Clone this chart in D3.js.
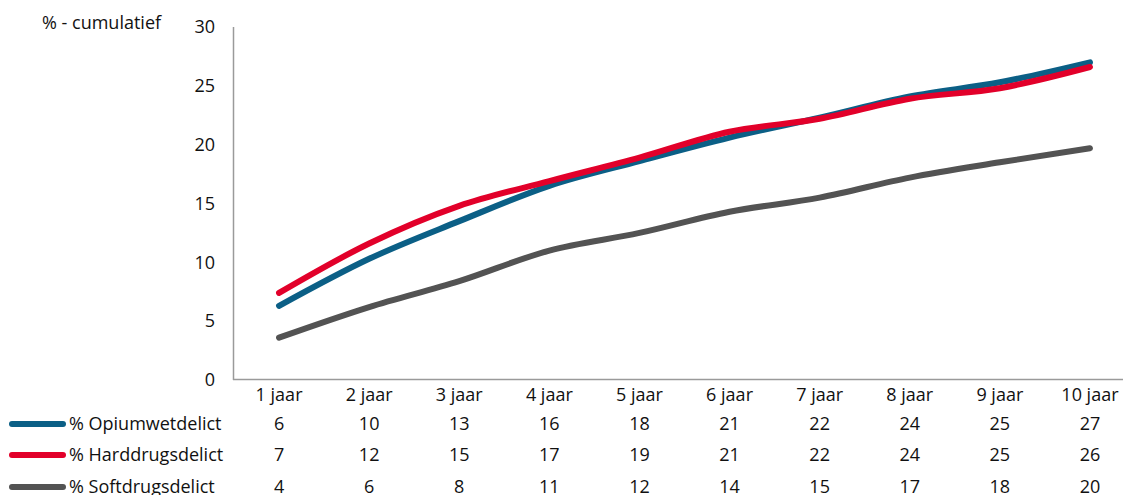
<!DOCTYPE html>
<html><head><meta charset="utf-8">
<script src="https://cdn.jsdelivr.net/npm/d3@7"></script>
<style>
body{margin:0;background:#fff;}
svg text{font-family:"Open Sans",Lato,sans-serif;fill:#111;}
</style></head>
<body>
<svg id="c" width="1123" height="495"></svg>
<script>
const categories = ["1 jaar","2 jaar","3 jaar","4 jaar","5 jaar","6 jaar","7 jaar","8 jaar","9 jaar","10 jaar"];
const seriesNames = ["% Opiumwetdelict","% Harddrugsdelict","% Softdrugsdelict"];
const opium = [6.3,10.3,13.5,16.5,18.6,20.6,22.3,24.1,25.3,27.0];
const hard  = [7.4,11.6,14.8,16.9,18.9,21.1,22.2,23.9,24.8,26.6];
const soft  = [3.6,6.2,8.4,11.0,12.5,14.3,15.5,17.2,18.5,19.7];
const tableOpium = [6,10,13,16,18,21,22,24,25,27];
const tableHard  = [7,12,15,17,19,21,22,24,25,26];
const tableSoft  = [4,6,8,11,12,14,15,17,18,20];
const yTicks = [0,5,10,15,20,25,30];
const colors = ["#0b5f86","#e2002a","#535353"];
const fs = 18;

const svg = d3.select("#c");
const x = d3.scaleBand().domain(categories).range([234,1135]);
const y = d3.scaleLinear().domain([0,30]).range([380,27]);

svg.append("line").attr("x1",233.5).attr("x2",233.5).attr("y1",27).attr("y2",380).attr("stroke","#9a9a9a").attr("stroke-width",1.5);
svg.append("line").attr("x1",233).attr("x2",1123).attr("y1",379.5).attr("y2",379.5).attr("stroke","#9a9a9a").attr("stroke-width",1.5);

svg.selectAll(".yt").data(yTicks).enter().append("text")
  .attr("x",215).attr("y",d=>y(d)).attr("dy","0.35em").attr("text-anchor","end")
  .attr("font-size",fs).text(d=>d);

svg.append("text").attr("x",42).attr("y",29).attr("font-size",fs).text("% - cumulatief");

svg.selectAll(".xt").data(categories).enter().append("text")
  .attr("x",d=>x(d)+x.bandwidth()/2).attr("y",395).attr("dy","0.35em").attr("text-anchor","middle")
  .attr("font-size",fs).text(d=>d);

const series = [opium,hard,soft];
const tables = [tableOpium,tableHard,tableSoft];
const line = d3.line().x((d,i)=>x(categories[i])+x.bandwidth()/2).y(d=>y(d)).curve(d3.curveMonotoneX);

[2,0,1].forEach(k=>{
  svg.append("path").datum(series[k]).attr("d",line).attr("fill","none")
    .attr("stroke",colors[k]).attr("stroke-width",6).attr("stroke-linecap","round").attr("stroke-linejoin","round");
});

const rowY = [424,455,487];
seriesNames.forEach((n,k)=>{
  svg.append("line").attr("x1",12).attr("x2",63).attr("y1",rowY[k]).attr("y2",rowY[k])
    .attr("stroke",colors[k]).attr("stroke-width",6).attr("stroke-linecap","round");
  svg.append("text").attr("x",69).attr("y",rowY[k]).attr("dy","0.35em").attr("font-size",fs).text(n);
  svg.selectAll(".r"+k).data(tables[k]).enter().append("text")
    .attr("x",(d,i)=>x(categories[i])+x.bandwidth()/2).attr("y",rowY[k]).attr("dy","0.35em")
    .attr("text-anchor","middle").attr("font-size",fs).text(d=>d);
});
</script>
</body></html>
